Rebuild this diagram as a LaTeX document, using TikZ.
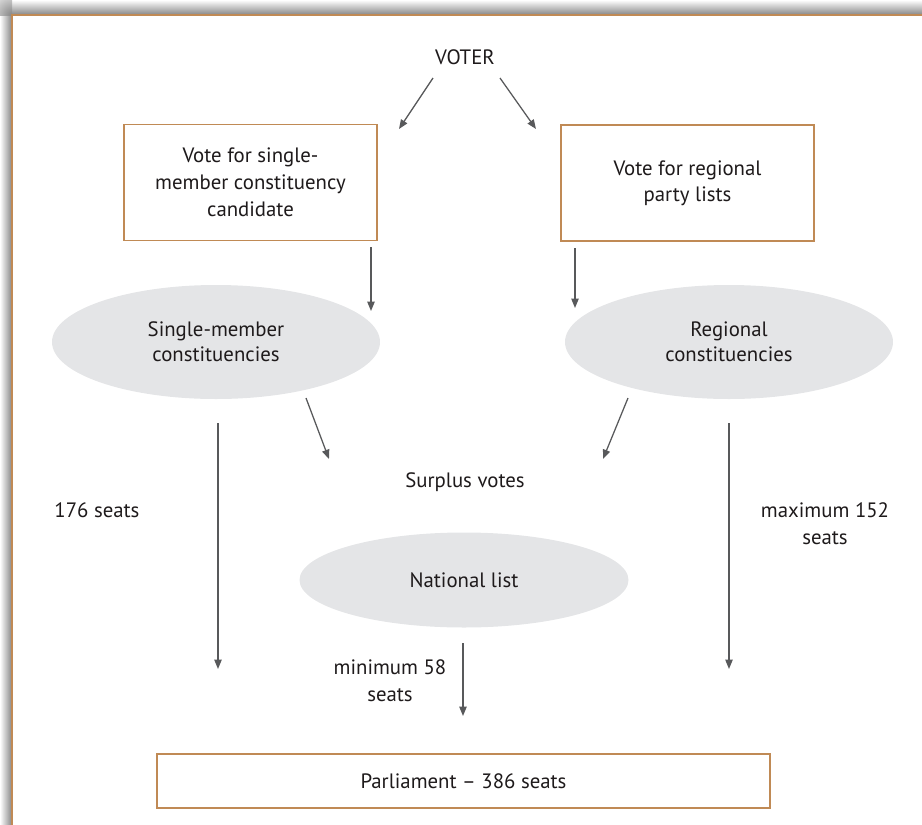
\documentclass[tikz,border=0pt]{standalone}
\usepackage{fontspec}
\setmainfont{PT Sans}
\usetikzlibrary{shapes.geometric,arrows.meta}
\definecolor{brd}{HTML}{C08A55}
\definecolor{ell}{HTML}{E4E5E7}
\definecolor{arr}{HTML}{58595B}
\definecolor{txt}{HTML}{1E1A1B}
\tikzset{
  box/.style={draw=brd, line width=1.1pt, rectangle, fill=white, inner sep=0pt, align=center, text=txt},
  ellnode/.style={ellipse, fill=ell, inner sep=0pt, align=center, text=txt, minimum width=246pt, minimum height=85.5pt},
  lbl/.style={align=center, text=txt, inner sep=0pt},
  conn/.style={draw=arr, line width=0.95pt, -{Triangle[length=7pt,width=5.5pt]}},
}
\begin{document}
\begin{tikzpicture}[x=0.75pt, y=-0.75pt, font=\fontsize{15.6}{18.5}\selectfont]
\useasboundingbox (0,0) rectangle (922,825);
% shadow
\shade[top color=white, bottom color=black!48] (12,0) rectangle (922,15);
\shade[left color=white, right color=black!48] (0,15) rectangle (12,825);
\begin{scope}
  \clip (0,0) rectangle (12,15);
  \shade[inner color=black!48, outer color=white] (12,15) circle (30);
\end{scope}
\draw[brd, line width=1.3pt] (12,826) -- (12,15) -- (923,15);

% nodes
\node[lbl] (voter) at (465,57) {VOTER};
\node[box, minimum width=189.75pt, minimum height=87pt, font=\fontsize{15.6}{20.2}\selectfont] (b1) at (250.5,182.5) {Vote for single-\\member constituency\\candidate};
\node[box, minimum width=189.75pt, minimum height=87pt, font=\fontsize{15.6}{19.5}\selectfont] (b2) at (687.5,183) {Vote for regional\\party lists};
\node[ellnode] (e1) at (216,342) {Single-member\\constituencies};
\node[ellnode] (e2) at (729,342) {Regional\\constituencies};
\node[lbl] (surplus) at (465,482) {Surplus votes};
\node[ellnode, minimum width=246.75pt, minimum height=71.25pt] (nat) at (464,580) {National list};
\node[box, minimum width=459.75pt, minimum height=40.5pt] (parl) at (463.5,781) {Parliament -- 386 seats};
\node[lbl] (l176) at (97,510) {176 seats};
\node[lbl, font=\fontsize{15.6}{20.2}\selectfont] (lmax) at (825,523.5) {maximum 152\\seats};
\node[lbl, font=\fontsize{15.6}{20.2}\selectfont] (lmin) at (390,681) {minimum 58\\seats};

% arrow end points
\coordinate (v1s) at (433,78);  \coordinate (v1e) at (399,129);
\coordinate (v2s) at (500,78);  \coordinate (v2e) at (536,129);
\coordinate (b1s) at (371,247); \coordinate (b1e) at (371,311);
\coordinate (b2s) at (575,248); \coordinate (b2e) at (575,308);
\coordinate (d1s) at (306,398); \coordinate (d1e) at (329,459);
\coordinate (d2s) at (628,398); \coordinate (d2e) at (603,459);
\coordinate (l1s) at (218,423); \coordinate (l1e) at (218,669);
\coordinate (r1s) at (729,423); \coordinate (r1e) at (729,669);
\coordinate (ns) at (463,643);  \coordinate (ne) at (463,716);

\draw[conn] (v1s) -- (v1e);
\draw[conn] (v2s) -- (v2e);
\draw[conn] (b1s) -- (b1e);
\draw[conn] (b2s) -- (b2e);
\draw[conn] (d1s) -- (d1e);
\draw[conn] (d2s) -- (d2e);
\draw[conn] (l1s) -- (l1e);
\draw[conn] (r1s) -- (r1e);
\draw[conn] (ns) -- (ne);
\end{tikzpicture}
\end{document}
